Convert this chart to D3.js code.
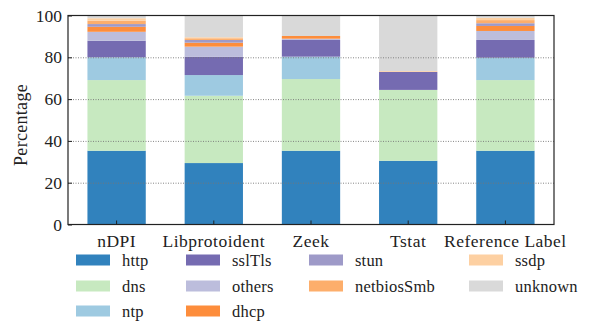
<!DOCTYPE html>
<html>
<head>
<meta charset="utf-8">
<script src="https://cdn.jsdelivr.net/npm/d3@7"></script>
<style>
  html, body { margin: 0; padding: 0; background: #fff; }
  svg { display: block; }
  text { font-family: "Liberation Serif", "DejaVu Serif", serif; fill: #222; }
</style>
</head>
<body>
<script>
const categories = ["nDPI", "Libprotoident", "Zeek", "Tstat", "Reference Label"];
const seriesNames = ["http", "dns", "ntp", "sslTls", "others", "dhcp", "stun", "netbiosSmb", "ssdp", "unknown"];
const http       = [35.3, 29.4, 35.3, 30.5, 35.3];
const dns        = [33.8, 32.2, 34.3, 33.9, 33.8];
const ntp        = [10.9,  9.9, 10.7,  0.0, 10.7];
const sslTls     = [ 7.9,  8.8,  8.0,  8.6,  8.5];
const others     = [ 4.3,  4.8,  0.6,  0.0,  4.3];
const dhcp       = [ 2.4,  1.9,  1.3,  0.0,  2.4];
const stun       = [ 1.3,  1.3,  0.0,  0.0,  1.3];
const netbiosSmb = [ 1.6,  0.8,  0.0,  0.0,  1.5];
const ssdp       = [ 1.2,  0.5,  0.0,  0.4,  1.1];
const unknown    = [ 1.3, 10.4,  9.8, 26.6,  1.1];
const yTicks = [0, 20, 40, 60, 80, 100];
const colors = ["#3182bd", "#c7e9c0", "#9ecae1", "#756bb1", "#bcbddc", "#fd8d3c", "#9e9ac8", "#fdae6b", "#fdd0a2", "#d9d9d9"];

const seriesValues = [http, dns, ntp, sslTls, others, dhcp, stun, netbiosSmb, ssdp, unknown];
const table = categories.map((c, i) => {
  const row = { category: c };
  seriesNames.forEach((s, j) => row[s] = seriesValues[j][i]);
  return row;
});

const FONT = '"Liberation Serif", "DejaVu Serif", serif';
const W = 591, H = 322;
const m = { left: 68, right: W - 554, top: 15.5, bottom: H - 224.5 };
const svg = d3.select("body").append("svg").attr("width", W).attr("height", H);

const x = d3.scaleBand().domain(categories).range([m.left, W - m.right]).paddingInner(0.4).paddingOuter(0.2);
const y = d3.scaleLinear().domain([0, 100]).range([H - m.bottom, m.top]);
const color = d3.scaleOrdinal().domain(seriesNames).range(colors);

const stacked = d3.stack().keys(seriesNames)(table);

svg.append("g").selectAll("g").data(stacked).join("g")
  .attr("fill", d => color(d.key))
  .selectAll("rect").data(d => d).join("rect")
  .attr("x", d => x(d.data.category))
  .attr("width", x.bandwidth())
  .attr("y", d => y(d[1]))
  .attr("height", d => Math.max(0, y(d[0]) - y(d[1])));

// grid (dotted, drawn over bars)
svg.append("g").selectAll("line").data(yTicks.filter(t => t > 0 && t < 100)).join("line")
  .attr("x1", m.left).attr("x2", W - m.right)
  .attr("y1", d => y(d) + 0.5).attr("y2", d => y(d) + 0.5)
  .attr("stroke", "#777").attr("stroke-width", 0.9).attr("stroke-dasharray", "1,1.5");

// y axis
const yAxis = svg.append("g").attr("transform", `translate(${m.left},0)`)
  .call(d3.axisLeft(y).tickValues(yTicks).tickSize(-4).tickPadding(6));
yAxis.select(".domain").remove();
yAxis.selectAll("line").attr("stroke", "#222");
yAxis.selectAll("text").style("font-size", "17.5px").style("font-family", FONT).attr("fill", "#222");

// x axis
const xAxis = svg.append("g").attr("transform", `translate(0,${H - m.bottom})`)
  .call(d3.axisBottom(x).tickSize(-4).tickPadding(10.5));
xAxis.select(".domain").remove();
xAxis.selectAll("line").attr("stroke", "#222");
xAxis.selectAll("text").style("font-size", "17.5px").style("letter-spacing", "0.5px")
  .style("font-family", FONT).attr("fill", "#222");

// frame
svg.append("rect").attr("x", m.left).attr("y", m.top)
  .attr("width", W - m.left - m.right).attr("height", H - m.top - m.bottom)
  .attr("fill", "none").attr("stroke", "#222").attr("stroke-width", 1.2);

// y label
svg.append("text").attr("transform", `translate(27,${(m.top + H - m.bottom) / 2 + 5}) rotate(-90)`)
  .attr("text-anchor", "middle").style("font-size", "18px").style("letter-spacing", "0.3px").text("Percentage");

// legend: 4 columns with 3,3,2,2 entries (column-major)
const colX = [76, 186, 309, 469];
const rowY = [260, 286, 311];
const colStart = [0, 3, 6, 8, 10];
const leg = svg.append("g");
seriesNames.forEach((s, i) => {
  const col = d3.bisectRight(colStart, i) - 1, row = i - colStart[col];
  const g = leg.append("g").attr("transform", `translate(${colX[col]},${rowY[row]})`);
  g.append("rect").attr("x", 0).attr("y", -5.5).attr("width", 34).attr("height", 11).attr("fill", color(s));
  g.append("text").attr("x", 46).attr("y", 5.5).style("font-size", "16.5px").style("letter-spacing", "0.2px").text(s);
});
</script>
</body>
</html>
